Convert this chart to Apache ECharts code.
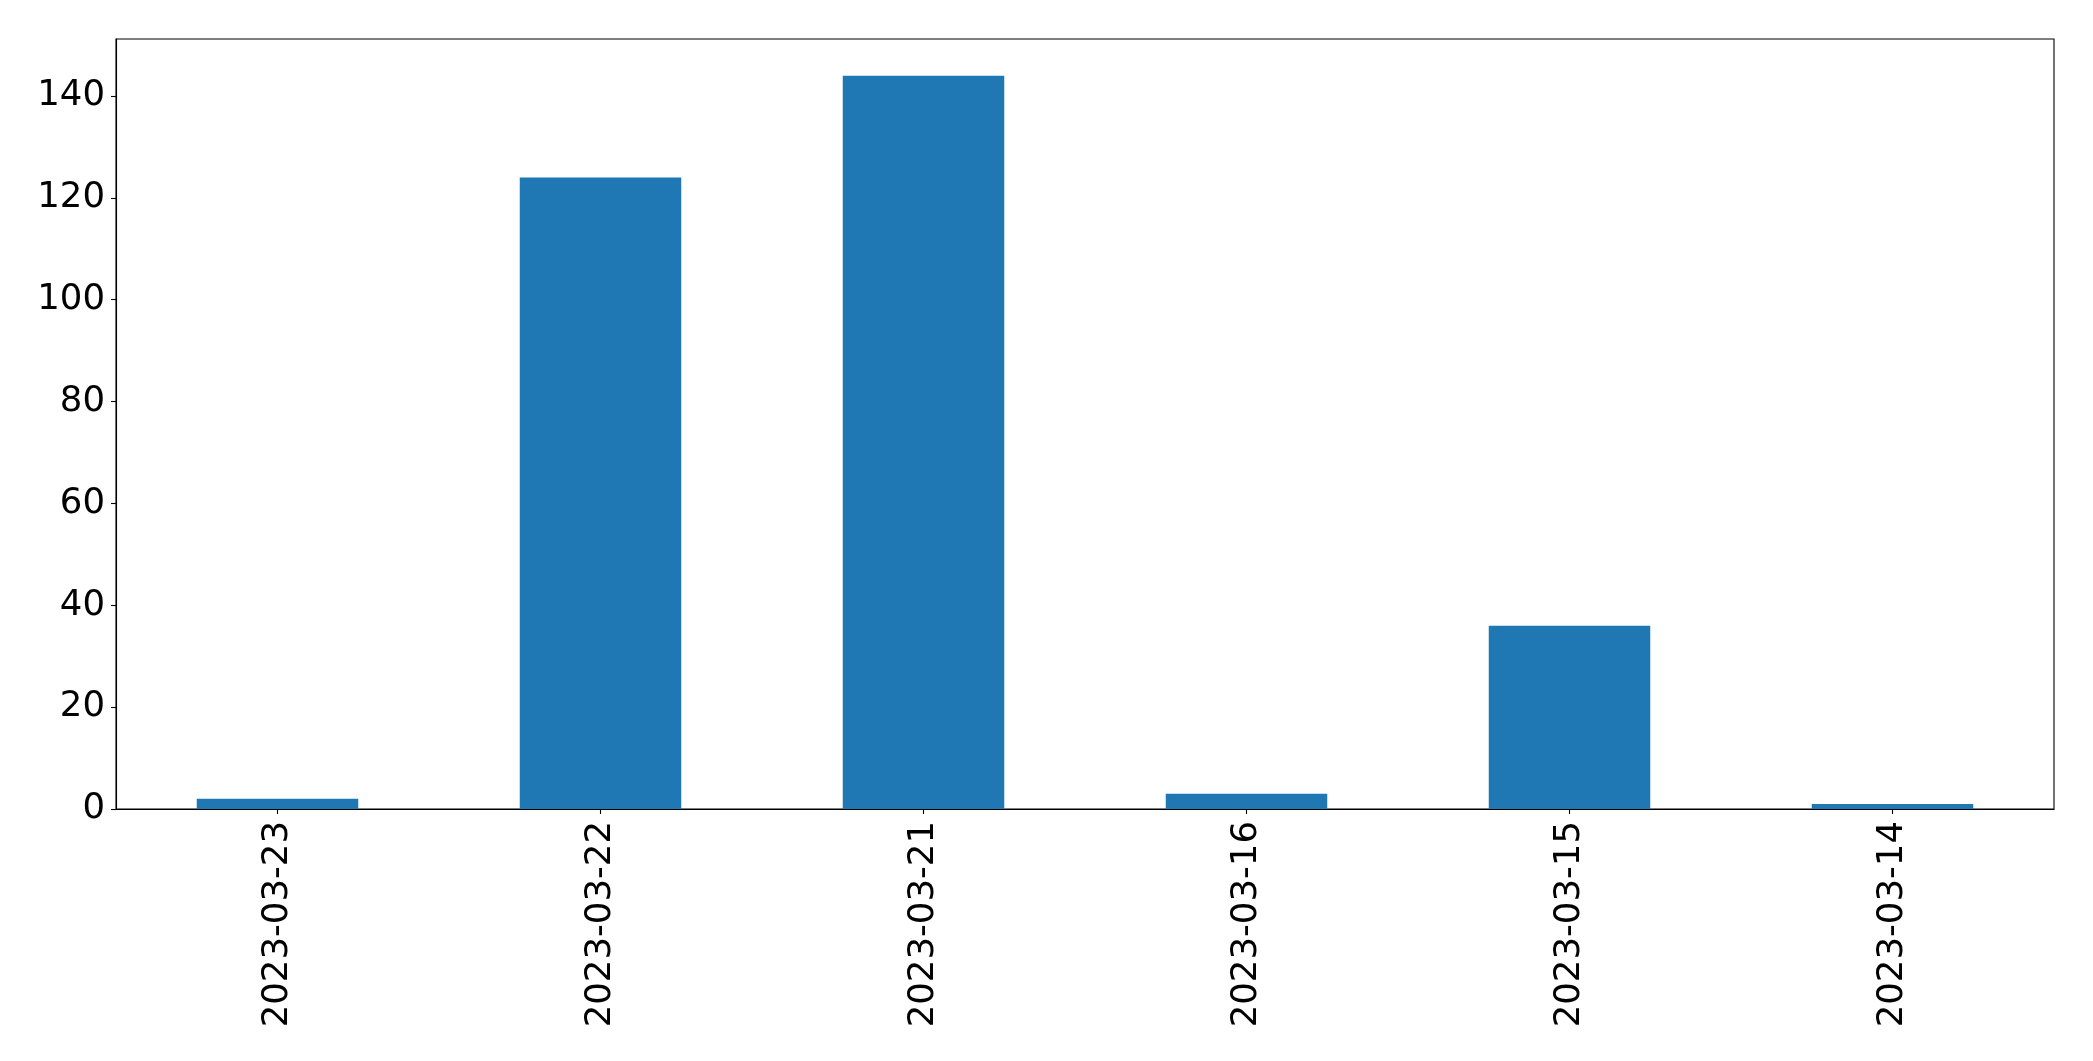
<!DOCTYPE html>
<html>
<head>
<meta charset="utf-8">
<script src="https://cdn.jsdelivr.net/npm/echarts@6/dist/echarts.min.js"></script>
<style>
html,body{margin:0;padding:0;background:#fff;}
#chart{width:2093px;height:1061px;}
</style>
</head>
<body>
<div id="chart"></div>
<script>
const categories = ["2023-03-23", "2023-03-22", "2023-03-21", "2023-03-16", "2023-03-15", "2023-03-14"];
const counts = [2, 124, 144, 3, 36, 1];
const yTicks = [0, 20, 40, 60, 80, 100, 120, 140];

const chart = echarts.init(document.getElementById('chart'), null, {renderer: 'canvas'});
chart.setOption({
  animation: false,
  backgroundColor: '#ffffff',
  grid: {
    left: 116, right: 39, top: 39, bottom: 252,
    show: true, borderColor: '#000000', borderWidth: 1.1, backgroundColor: 'transparent'
  },
  xAxis: {
    type: 'category',
    data: categories,
    boundaryGap: true,
    axisLine: {show: true, lineStyle: {color: '#000', width: 1.1}},
    axisTick: {show: true, alignWithLabel: true, length: 5, lineStyle: {color: '#000', width: 1.1}},
    axisLabel: {
      rotate: 90, margin: 12, color: '#000',
      fontFamily: 'DejaVu Sans', fontSize: 35.5
    },
    splitLine: {show: false}
  },
  yAxis: {
    type: 'value',
    min: 0, max: 151.2, interval: 20,
    axisLine: {show: true, lineStyle: {color: '#000', width: 1.1}},
    axisTick: {show: true, length: 5, lineStyle: {color: '#000', width: 1.1}, customValues: yTicks},
    axisLabel: {
      margin: 11, color: '#000', fontFamily: 'DejaVu Sans', fontSize: 35.5,
      padding: [5, 0, 0, 0],
      customValues: yTicks
    },
    splitLine: {show: false}
  },
  series: [{
    type: 'bar',
    data: counts,
    barWidth: '50%',
    itemStyle: {color: '#1f77b4'}
  }]
});
</script>
</body>
</html>
